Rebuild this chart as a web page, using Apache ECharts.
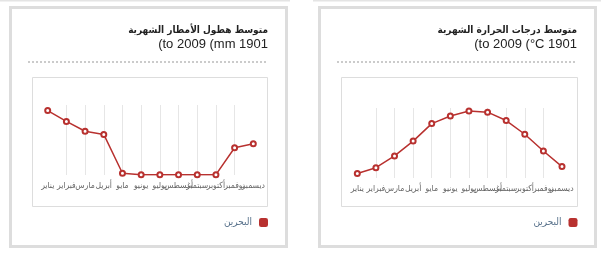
<!DOCTYPE html>
<html><head><meta charset="utf-8">
<script src="https://cdn.jsdelivr.net/npm/echarts@6/dist/echarts.min.js"></script>
<style>html,body{margin:0;padding:0;background:#fff}#c{width:604px;height:254px}</style>
</head><body><div id="c"></div>
<script>
const months = ['يناير','فبراير','مارس','أبريل','مايو','يونيو','يوليو','أغسطس','سبتمبر','أكتوبر','نوفمبر','ديسمبر'];
const rainfall = [18.4, 15.3, 12.5, 11.6, 0.5, 0.1, 0.1, 0.1, 0.1, 0.1, 7.8, 8.9];
const temperature = [17.0, 18.5, 21.6, 25.5, 30.1, 32.1, 33.4, 33.1, 30.9, 27.3, 22.9, 18.8];
const seriesName = 'البحرين';
const rainTitle = ['متوسط هطول الأمطار الشهرية', '(to 2009 (mm 1901'];
const tempTitle = ['متوسط درجات الحرارة الشهرية', '(to 2009 (°C 1901'];

const FONT = 'Liberation Sans, Arial, DejaVu Sans, sans-serif';
const AR = 'DejaVu Sans Condensed, DejaVu Sans, sans-serif';
const RED = '#b8312f';
const chart = echarts.init(document.getElementById('c'), null, {renderer: 'canvas'});

function titles(t, right) {
  return [
    {text: t[0], right: right, top: 25, padding: 0,
     textStyle: {fontFamily: AR, fontSize: 10, fontWeight: 'bold', color: '#222'}},
    {text: t[1], right: right, top: 38, padding: 0,
     textStyle: {fontFamily: FONT, fontSize: 13, fontWeight: 'normal', color: '#222'}}
  ];
}
function xAxis(gi) {
  return {type: 'category', gridIndex: gi, data: months, boundaryGap: false,
    axisLine: {show: false}, axisTick: {show: false},
    axisLabel: {interval: 0, fontSize: 8.5, color: '#666', fontFamily: AR, margin: 6},
    splitLine: {show: true, showMinLine: false, showMaxLine: false, lineStyle: {color: '#e6e6e6', width: 1}}};
}
function yAxis(gi, min, max) {
  return {type: 'value', gridIndex: gi, min: min, max: max, show: false, splitLine: {show: false}};
}
function panel(x, w) {
  return {type: 'rect', shape: {x: x, y: 7.5, width: w, height: 239},
    style: {fill: 'none', stroke: '#dddddd', lineWidth: 3}, silent: true};
}
function box(x, w) {
  return {type: 'rect', shape: {x: x, y: 77.5, width: w, height: 129},
    style: {fill: 'none', stroke: '#dddddd', lineWidth: 1}, silent: true};
}
function dots(x1, x2) {
  return {type: 'line', shape: {x1: x1, y1: 62, x2: x2, y2: 62},
    style: {stroke: '#bbbbbb', lineWidth: 1.5, lineDash: [2, 2]}, silent: true};
}

chart.setOption({
  animation: false,
  backgroundColor: '#fff',
  title: titles(rainTitle, 336).concat(titles(tempTitle, 27)),
  graphic: [
    {type: 'rect', shape: {x: 0, y: 0, width: 290, height: 1.5}, style: {fill: '#e4e4e4'}, silent: true},
    {type: 'rect', shape: {x: 313, y: 0, width: 288, height: 1.5}, style: {fill: '#e4e4e4'}, silent: true},
    panel(10.5, 276), panel(319.5, 276),
    box(32.5, 235), box(341.5, 236),
    dots(28, 268), dots(337, 577)
  ],
  grid: [
    {left: 47.7, right: 604 - 253.3, top: 105, height: 70},
    {left: 357.3, right: 604 - 562, top: 108, height: 70}
  ],
  xAxis: [xAxis(0), xAxis(1)],
  yAxis: [yAxis(0, 0, 20), yAxis(1, 15.8, 34.2)],
  legend: [
    {data: [seriesName], right: 336, top: 217.5, align: 'right', icon: 'roundRect',
     itemWidth: 9, itemHeight: 9, itemGap: 5, padding: 0,
     textStyle: {fontFamily: AR, fontSize: 10, color: '#56708a', padding: [0, 2, 0, 0]}},
    {data: [seriesName], right: 26.5, top: 217.5, align: 'right', icon: 'roundRect',
     itemWidth: 9, itemHeight: 9, itemGap: 5, padding: 0,
     textStyle: {fontFamily: AR, fontSize: 10, color: '#56708a', padding: [0, 2, 0, 0]}}
  ],
  series: [
    {name: seriesName, type: 'line', xAxisIndex: 0, yAxisIndex: 0, data: rainfall,
     symbol: 'emptyCircle', symbolSize: 5, color: RED,
     lineStyle: {width: 1.5, color: RED}, itemStyle: {color: RED, borderWidth: 1}},
    {name: seriesName, type: 'line', xAxisIndex: 1, yAxisIndex: 1, data: temperature,
     symbol: 'emptyCircle', symbolSize: 5, color: RED,
     lineStyle: {width: 1.5, color: RED}, itemStyle: {color: RED, borderWidth: 1}}
  ]
});
</script></body></html>
